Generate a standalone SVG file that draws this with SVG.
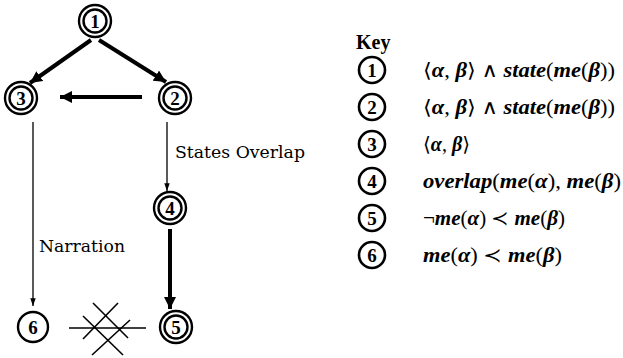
<svg xmlns="http://www.w3.org/2000/svg" width="623" height="358" viewBox="0 0 623 358">
<style>
.ring{fill:none;stroke:#000;stroke-width:2.4}
.kring{fill:none;stroke:#000;stroke-width:2.6}
.num{font-family:"Liberation Serif","DejaVu Serif",serif;font-size:19px;font-weight:bold;text-anchor:middle;fill:#000}
.lbl{font-family:"DejaVu Serif","Liberation Serif",serif;font-size:16.5px;fill:#000}
.key{font-family:"Liberation Serif","DejaVu Serif",serif;font-size:20px;fill:#000}
.it{font-style:italic;font-weight:bold}
.thin{stroke:#000;stroke-width:1.3;fill:none}
.thick{stroke:#000;stroke-width:4;fill:none}
</style>
<defs>
<marker id="ah" viewBox="0 0 10 10" refX="10" refY="5" markerWidth="3" markerHeight="3" orient="auto" markerUnits="strokeWidth"><path d="M0,0 L10,5 L0,10 Z" fill="#000"/></marker>
<marker id="ahs" viewBox="0 0 10 10" refX="10" refY="5" markerWidth="6" markerHeight="6" orient="auto" markerUnits="strokeWidth"><path d="M0,1.5 L10,5 L0,8.5 Z" fill="#000"/></marker>
</defs>
<g id="connectors">
<line class="thick" x1="91" y1="40" x2="30" y2="83" marker-end="url(#ah)"/>
<line class="thick" x1="99" y1="40" x2="166" y2="82" marker-end="url(#ah)"/>
<line class="thick" x1="142" y1="97" x2="60" y2="97" marker-end="url(#ah)"/>
<line class="thin" x1="33" y1="122" x2="33" y2="306" marker-end="url(#ahs)"/>
<line class="thin" x1="167" y1="122" x2="167" y2="191" marker-end="url(#ahs)"/>
<line class="thick" x1="170" y1="229" x2="170" y2="309" marker-end="url(#ah)"/>
</g>
<g id="nolink" class="thin" style="stroke-width:1.6">
<line x1="69" y1="328" x2="146" y2="328"/>
<line x1="93" y1="303" x2="128" y2="338"/>
<line x1="83" y1="316" x2="123" y2="355"/>
<line x1="118" y1="303" x2="83" y2="339"/>
<line x1="130" y1="320" x2="92" y2="355"/>
</g>
<g id="n1"><circle class="ring" cx="95" cy="21" r="16"/><circle class="ring" cx="95" cy="21" r="11.5"/><text class="num" x="95" y="27.5">1</text></g>
<g id="n3"><circle class="ring" cx="21" cy="98" r="16"/><circle class="ring" cx="21" cy="98" r="11.5"/><text class="num" x="21" y="104.5">3</text></g>
<g id="n2"><circle class="ring" cx="175" cy="98" r="16"/><circle class="ring" cx="175" cy="98" r="11.5"/><text class="num" x="175" y="104.5">2</text></g>
<g id="n4"><circle class="ring" cx="170" cy="208" r="16"/><circle class="ring" cx="170" cy="208" r="11.5"/><text class="num" x="170" y="214.5">4</text></g>
<g id="n5"><circle class="ring" cx="176" cy="327" r="16"/><circle class="ring" cx="176" cy="327" r="11.5"/><text class="num" x="176" y="333.5">5</text></g>
<g id="n6"><circle class="ring" cx="33" cy="327" r="15"/><text class="num" x="33" y="333.5">6</text></g>
<text class="lbl" x="175" y="158" textLength="130" lengthAdjust="spacingAndGlyphs">States Overlap</text>
<text class="lbl" x="39" y="252" textLength="86" lengthAdjust="spacingAndGlyphs">Narration</text>
<g id="legend">
<text class="key" x="356" y="49" font-weight="bold">Key</text>
<g id="k1"><circle class="kring" cx="372" cy="70" r="13"/><text class="num" x="372" y="76.5">1</text>
<text class="key" x="423" y="77" textLength="192" lengthAdjust="spacingAndGlyphs">⟨<tspan class="it">α</tspan>, <tspan class="it">β</tspan>⟩ ∧ <tspan class="it">state</tspan>(<tspan class="it">me</tspan>(<tspan class="it">β</tspan>))</text></g>
<g id="k2"><circle class="kring" cx="372" cy="107" r="13"/><text class="num" x="372" y="113.5">2</text>
<text class="key" x="423" y="114" textLength="192" lengthAdjust="spacingAndGlyphs">⟨<tspan class="it">α</tspan>, <tspan class="it">β</tspan>⟩ ∧ <tspan class="it">state</tspan>(<tspan class="it">me</tspan>(<tspan class="it">β</tspan>))</text></g>
<g id="k3"><circle class="kring" cx="372" cy="144" r="13"/><text class="num" x="372" y="150.5">3</text>
<text class="key" x="423" y="151" textLength="47" lengthAdjust="spacingAndGlyphs">⟨<tspan class="it">α</tspan>, <tspan class="it">β</tspan>⟩</text></g>
<g id="k4"><circle class="kring" cx="372" cy="181" r="13"/><text class="num" x="372" y="187.5">4</text>
<text class="key" x="423" y="188" textLength="198" lengthAdjust="spacingAndGlyphs"><tspan class="it">overlap</tspan>(<tspan class="it">me</tspan>(<tspan class="it">α</tspan>), <tspan class="it">me</tspan>(<tspan class="it">β</tspan>)</text></g>
<g id="k5"><circle class="kring" cx="372" cy="218" r="13"/><text class="num" x="372" y="224.5">5</text>
<text class="key" x="423" y="225" textLength="142" lengthAdjust="spacingAndGlyphs">¬<tspan class="it">me</tspan>(<tspan class="it">α</tspan>) ≺ <tspan class="it">me</tspan>(<tspan class="it">β</tspan>)</text></g>
<g id="k6"><circle class="kring" cx="372" cy="255" r="13"/><text class="num" x="372" y="261.5">6</text>
<text class="key" x="423" y="262" textLength="139" lengthAdjust="spacingAndGlyphs"><tspan class="it">me</tspan>(<tspan class="it">α</tspan>) ≺ <tspan class="it">me</tspan>(<tspan class="it">β</tspan>)</text></g>
</g>
</svg>
